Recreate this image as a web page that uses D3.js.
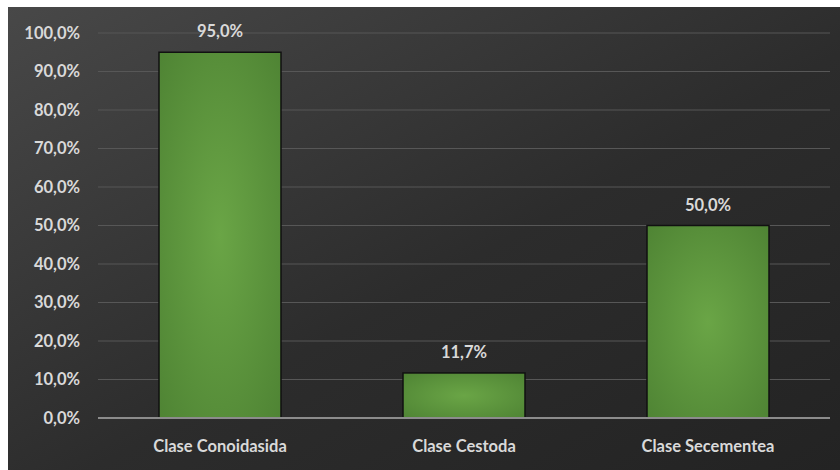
<!DOCTYPE html>
<html>
<head>
<meta charset="utf-8">
<script src="https://cdn.jsdelivr.net/npm/d3@7"></script>
<style>
  html, body { margin: 0; padding: 0; background: #ffffff; }
  svg { display: block; }
  text { font-family: Lato, "Open Sans", sans-serif; font-weight: 700; }
</style>
</head>
<body>
<svg id="chart" width="840" height="470"></svg>
<script>
// Data
const categories = ["Clase Conoidasida", "Clase Cestoda", "Clase Secementea"];
const values = [95.0, 11.7, 50.0];
const yTicks = [0, 10, 20, 30, 40, 50, 60, 70, 80, 90, 100];

const fmt = v => v.toFixed(1).replace(".", ",") + "%";

const W = 840, H = 470;
const margin = { top: 33, right: 10, bottom: 52, left: 98 };
const FS = 16.5;
const svg = d3.select("#chart");
const defs = svg.append("defs");

// Dark panel gradient
const bg = defs.append("linearGradient")
  .attr("id", "bgGrad").attr("x1", "0%").attr("y1", "0%").attr("x2", "100%").attr("y2", "100%");
bg.append("stop").attr("offset", "0%").attr("stop-color", "#484848");
bg.append("stop").attr("offset", "55%").attr("stop-color", "#2c2c2c");
bg.append("stop").attr("offset", "100%").attr("stop-color", "#232323");

// Bar radial gradient
const bar = defs.append("radialGradient")
  .attr("id", "barGrad").attr("cx", "50%").attr("cy", "50%").attr("r", "70%");
bar.append("stop").attr("offset", "0%").attr("stop-color", "#6aa546");
bar.append("stop").attr("offset", "100%").attr("stop-color", "#4f8434");

svg.append("rect")
  .attr("x", 8).attr("y", 7).attr("width", W - 8).attr("height", H - 7)
  .attr("fill", "url(#bgGrad)");

const x = d3.scaleBand()
  .domain(categories)
  .range([margin.left, W - margin.right])
  .paddingInner(0.5).paddingOuter(0.25);

const y = d3.scaleLinear()
  .domain([0, 100])
  .range([H - margin.bottom, margin.top]);

// Grid lines
svg.append("g")
  .selectAll("line")
  .data(yTicks.filter(t => t > 0))
  .join("line")
  .attr("x1", margin.left).attr("x2", W - margin.right)
  .attr("y1", d => y(d)).attr("y2", d => y(d))
  .attr("stroke", "#575757").attr("stroke-width", 1);

// Y axis labels
const yAxis = d3.axisLeft(y).tickValues(yTicks).tickFormat(fmt).tickSize(0).tickPadding(18);
const gy = svg.append("g").attr("transform", `translate(${margin.left},0)`).call(yAxis);
gy.select(".domain").remove();
gy.selectAll("text")
  .attr("fill", "#d9d9d9").attr("font-size", FS)
  .style("font-family", "Lato, 'Open Sans', sans-serif").style("font-weight", 700);

// Bars
svg.append("g")
  .selectAll("rect")
  .data(values)
  .join("rect")
  .attr("x", (d, i) => x(categories[i]))
  .attr("y", d => y(d))
  .attr("width", x.bandwidth())
  .attr("height", d => y(0) - y(d))
  .attr("fill", "url(#barGrad)")
  .attr("stroke", "#111")
  .attr("stroke-width", 1.5);

// Baseline
svg.append("line")
  .attr("x1", margin.left).attr("x2", W - margin.right)
  .attr("y1", y(0)).attr("y2", y(0))
  .attr("stroke", "#8c8c8c").attr("stroke-width", 2);

// Value labels
svg.append("g")
  .selectAll("text")
  .data(values)
  .join("text")
  .attr("x", (d, i) => x(categories[i]) + x.bandwidth() / 2)
  .attr("y", d => y(d) - 15)
  .attr("text-anchor", "middle")
  .attr("fill", "#d9d9d9").attr("font-size", FS)
  .text(d => fmt(d));

// X axis labels
const xAxis = d3.axisBottom(x).tickSize(0).tickPadding(22);
const gx = svg.append("g").attr("transform", `translate(0,${y(0)})`).call(xAxis);
gx.select(".domain").remove();
gx.selectAll("text")
  .attr("fill", "#d9d9d9").attr("font-size", FS)
  .style("font-family", "Lato, 'Open Sans', sans-serif").style("font-weight", 700);
</script>
</body>
</html>
